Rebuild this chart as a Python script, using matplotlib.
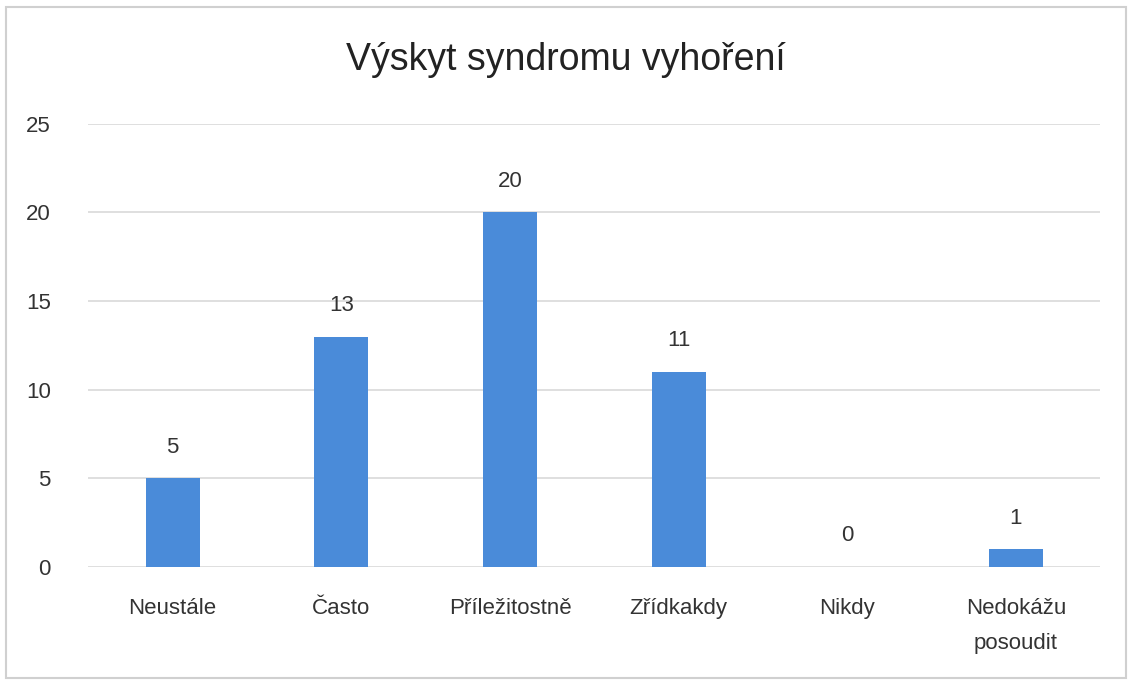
import matplotlib.pyplot as plt
from matplotlib import font_manager
from matplotlib.patches import Rectangle

categories = ["Neustále", "Často", "Příležitostně", "Zřídkakdy", "Nikdy", "Nedokážu\nposoudit"]
counts = [5, 13, 20, 11, 0, 1]
y_ticks = [0, 5, 10, 15, 20, 25]

names = {f.name for f in font_manager.fontManager.ttflist}
family = "Liberation Sans Narrow" if "Liberation Sans Narrow" in names else "Liberation Sans"
plt.rcParams["font.family"] = [family, "DejaVu Sans"]

fig = plt.figure(figsize=(11.32, 6.8), dpi=100)
ax = fig.add_axes([0.078, 0.166, 0.894, 0.652])

x = range(len(categories))
bars = ax.bar(x, counts, width=0.32, color="#4a8bd9", zorder=3)
for xi, v in zip(x, counts):
    ax.annotate(str(v), (xi, v), xytext=(0, 15), textcoords="offset points",
                ha="center", va="bottom", fontsize=16, color="#333333")

ax.set_xlim(-0.5, len(categories) - 0.5)
ax.set_ylim(0, 25)
ax.set_yticks(y_ticks)
ax.set_xticks(list(x))
ax.set_xticklabels(categories, fontsize=16, color="#333333", linespacing=1.9)
ax.tick_params(axis="y", labelsize=16, labelcolor="#333333", length=0, pad=27)
ax.tick_params(axis="x", length=0, pad=22)
ax.grid(axis="y", color="#d9d9d9", linewidth=1.2, zorder=0)
for s in ax.spines.values():
    s.set_visible(False)

fig.text(0.5, 0.912, "Výskyt syndromu vyhoření", ha="center", va="center",
         fontsize=27, color="#222222")
fig.patches.append(Rectangle((0.005, 0.003), 0.99, 0.986, transform=fig.transFigure,
                             fill=False, edgecolor="#d0d0d0", linewidth=1.5))

fig.savefig("out.png", dpi=100)
